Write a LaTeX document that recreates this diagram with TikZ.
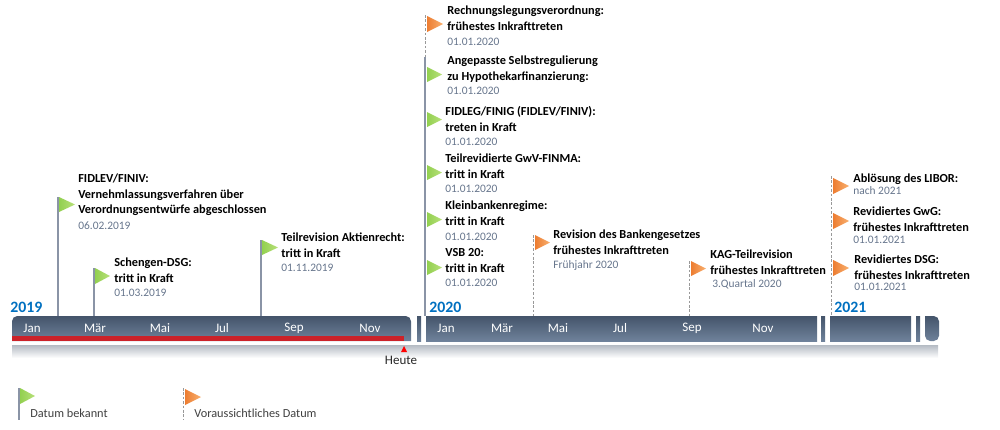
\documentclass[tikz,border=0pt]{standalone}
\usepackage{fontspec}
\setmainfont{Carlito}
\definecolor{barblue}{HTML}{44546A}
\definecolor{barlight}{HTML}{6F829B}
\definecolor{yearblue}{HTML}{0070C0}
\definecolor{dategray}{HTML}{66758C}
\definecolor{polegray}{HTML}{8A94A6}
\definecolor{flagdarkgreen}{HTML}{92D050}
\definecolor{flaglightgreen}{HTML}{B8E07A}
\definecolor{flagdarkorange}{HTML}{ED7D31}
\definecolor{flaglightorange}{HTML}{F8B070}
\definecolor{todayred}{HTML}{CC2229}
\tikzset{
  title/.style={anchor=north west,inner sep=0pt,align=left,font=\fontsize{7}{8.9}\selectfont\bfseries,text=black},
  datum/.style={anchor=north west,inner sep=0pt,font=\fontsize{6.5}{8}\selectfont,text=dategray},
  month/.style={inner sep=0pt,font=\fontsize{7.4}{9}\selectfont,text=white},
  year/.style={anchor=west,inner sep=0pt,font=\fontsize{9}{10}\selectfont\bfseries,text=yearblue},
  legendtext/.style={anchor=west,inner sep=0pt,font=\fontsize{7}{8}\selectfont,text=black!75},
  pole/.style={line width=0.6pt,polegray},
  dashpole/.style={line width=0.5pt,black!40,dash pattern=on 1.5pt off 1pt},
  greenflag/.style={left color=flagdarkgreen,right color=flaglightgreen,draw=none},
  orangeflag/.style={left color=flagdarkorange,right color=flaglightorange,draw=none},
  barpart/.style={top color=barblue,bottom color=barlight,draw=none},
}
\begin{document}
\begin{tikzpicture}[x=0.2mm,y=-0.2mm]
    \useasboundingbox (0,0) rectangle (1000,429);
    % Bar shadow
    \path[top color=barblue!40,bottom color=white,draw=none] (12,345) rectangle (938,358);
    % Bar 2019
    \path[barpart,rounded corners=3pt] (12,341) -- (12,316) -- (411,316) [sharp corners] -- (411,341) -- cycle;
    \fill[todayred] (12,336) rectangle (404,341);
    \path[barpart] (417,316) rectangle (421,341);
    % Bar 2020
    \path[barpart] (426,316) rectangle (817,341);
    \path[barpart] (821,316) rectangle (825,341);
    % Bar 2021
    \path[barpart] (830,316) rectangle (911,341);
    \path[barpart] (916,316) rectangle (920,341);
    \path[barpart,rounded corners=3pt] (925,316) -- (939,316) -- (939,341) -- (925,341) [sharp corners] -- cycle;
    % Months
    \node[month] (jan19) at (32,328) {Jan};
    \node[month] (mar19) at (95,328) {Mär};
    \node[month] (mai19) at (160,328) {Mai};
    \node[month] (jul19) at (222,328) {Jul};
    \node[month] (sep19) at (294,328) {Sep};
    \node[month] (nov19) at (370,328) {Nov};
    \node[month] (jan20) at (446,328) {Jan};
    \node[month] (mar20) at (502,328) {Mär};
    \node[month] (mai20) at (558,328) {Mai};
    \node[month] (jul20) at (620,328) {Jul};
    \node[month] (sep20) at (692,328) {Sep};
    \node[month] (nov20) at (763,328) {Nov};
    % Years
    \node[year] (y2019) at (10,307) {2019};
    \node[year] (y2020) at (429,307) {2020};
    \node[year] (y2021) at (834,307) {2021};
    % Heute
    \fill[red] (404,346) -- (407,352) -- (401,352) -- cycle;
    \node[inner sep=0pt,font=\fontsize{7.4}{9}\selectfont,text=black!85] (heute) at (401,360) {Heute};
    % Poles 2019
    \draw[pole] (58,197) to (58,316);
    \draw[pole] (94,268) to (94,316);
    \draw[pole] (261,240) to (261,316);
    % Poles 2020
    \draw[dashpole] (425,15) to (425,57);
    \draw[pole] (425,57) to (425,316);
    \draw[dashpole] (533,235) to (533,316);
    \draw[dashpole] (689,261) to (689,316);
    % Poles 2021
    \draw[dashpole] (831,176) to (831,316);
    % Green flags
    \path[greenflag] (59,197) -- (59,212) -- (75,204.5) -- cycle;
    \path[greenflag] (95,268) -- (95,284) -- (110,276) -- cycle;
    \path[greenflag] (262,240) -- (262,255) -- (278,247.5) -- cycle;
    \path[greenflag] (427,67) -- (427,82) -- (442,74.5) -- cycle;
    \path[greenflag] (427,112) -- (427,127) -- (442,119.5) -- cycle;
    \path[greenflag] (427,165) -- (427,180) -- (442,172.5) -- cycle;
    \path[greenflag] (427,212) -- (427,227) -- (442,219.5) -- cycle;
    \path[greenflag] (427,260) -- (427,275) -- (442,267.5) -- cycle;
    % Orange flags
    \path[orangeflag] (427,16) -- (427,32) -- (443,24) -- cycle;
    \path[orangeflag] (535,235) -- (535,250) -- (550,242.5) -- cycle;
    \path[orangeflag] (691,261) -- (691,276) -- (706,268.5) -- cycle;
    \path[orangeflag] (833,178) -- (833,194) -- (849,186) -- cycle;
    \path[orangeflag] (833,213) -- (833,229) -- (849,221) -- cycle;
    \path[orangeflag] (833,260) -- (833,276) -- (849,268) -- cycle;
    % Labels 2019
    \node[title] (fidlev) at (78,173.5) {FIDLEV/FINIV:\\Vernehmlassungsverfahren über\\Verordnungsentwürfe abgeschlossen};
    \node[datum] (fidlevdate) at (78,221) {06.02.2019};
    \node[title] (schengen) at (114,257.5) {Schengen-DSG:\\tritt in Kraft};
    \node[datum] (schengendate) at (114,288.5) {01.03.2019};
    \node[title] (aktien) at (281,232.5) {Teilrevision Aktienrecht:\\tritt in Kraft};
    \node[datum] (aktiendate) at (281,263.5) {01.11.2019};
    % Labels 2020
    \node[title] (rechnung) at (447,5.5) {Rechnungslegungsverordnung:\\frühestes Inkrafttreten};
    \node[datum] (rechnungdate) at (447,37.5) {01.01.2020};
    \node[title] (hypo) at (447,55.5) {Angepasste Selbstregulierung\\zu Hypothekarfinanzierung:};
    \node[datum] (hypodate) at (447,86.5) {01.01.2020};
    \node[title] (fidleg) at (445,106.5) {FIDLEG/FINIG (FIDLEV/FINIV):\\treten in Kraft};
    \node[datum] (fidlegdate) at (445,137.5) {01.01.2020};
    \node[title] (gwv) at (445,153.5) {Teilrevidierte GwV-FINMA:\\tritt in Kraft};
    \node[datum] (gwvdate) at (445,184.5) {01.01.2020};
    \node[title] (klein) at (445,200.5) {Kleinbankenregime:\\tritt in Kraft};
    \node[datum] (kleindate) at (445,232.5) {01.01.2020};
    \node[title] (vsb) at (445,248.5) {VSB 20:\\tritt in Kraft};
    \node[datum] (vsbdate) at (445,278.5) {01.01.2020};
    \node[title] (bankg) at (553,229.5) {Revision des Bankengesetzes\\frühestes Inkrafttreten};
    \node[datum] (bankgdate) at (553,260.5) {Frühjahr 2020};
    \node[title] (kag) at (710,249.5) {KAG-Teilrevision\\frühestes Inkrafttreten};
    \node[datum] (kagdate) at (712,279.5) {3.Quartal 2020};
    % Labels 2021
    \node[title] (libor) at (853,173.5) {Ablösung des LIBOR:};
    \node[datum] (libordate) at (853,186) {nach 2021};
    \node[title] (gwg) at (853,206.5) {Revidiertes GwG:\\frühestes Inkrafttreten};
    \node[datum] (gwgdate) at (853,235.5) {01.01.2021};
    \node[title] (dsg) at (854,254.5) {Revidiertes DSG:\\frühestes Inkrafttreten};
    \node[datum] (dsgdate) at (854,282.5) {01.01.2021};
    % Legend
    \draw[pole] (19,388) to (19,420);
    \path[greenflag] (20,388) -- (20,404) -- (35,396) -- cycle;
    \node[legendtext] (bekannt) at (30,413.5) {Datum bekannt};
    \draw[dashpole] (183,388) to (183,420);
    \path[orangeflag] (185,389) -- (185,405) -- (201,397) -- cycle;
    \node[legendtext] (voraus) at (194,413.5) {Voraussichtliches Datum};
\end{tikzpicture}
\end{document}
